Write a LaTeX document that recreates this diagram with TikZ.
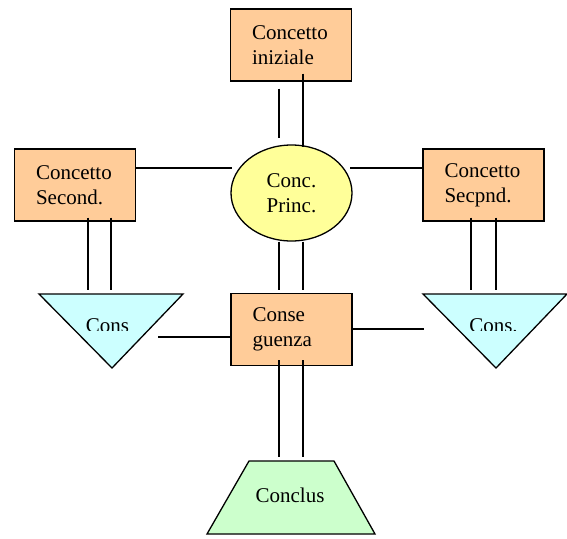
\documentclass[tikz,border=0pt]{standalone}
\usepackage{fontspec}
\setmainfont{Liberation Serif}
\newfontfamily\concfont{Liberation Serif}
\usetikzlibrary{shapes.geometric}
\definecolor{boxorange}{HTML}{FFCC99}
\definecolor{princyellow}{HTML}{FFFF99}
\definecolor{conscyan}{HTML}{CCFFFF}
\definecolor{conclgreen}{HTML}{CCFFCC}
\tikzset{
	concbox/.style={draw, fill=boxorange, rectangle, text width=78pt, inner xsep=21.5pt, inner ysep=0pt, minimum height=72pt, align=left},
	princ/.style={draw, fill=princyellow, ellipse, minimum width=121pt, minimum height=96pt, inner sep=0pt, align=left},
	lbl/.style={inner sep=0pt, anchor=base},
}
\begin{document}
\begin{tikzpicture}[x=1pt, y=-1pt, line width=1.3pt, font=\concfont\fontsize{21}{25}\selectfont]
		\useasboundingbox (0,0) rectangle (567,538);
		\path
			  (291,   45)   node[concbox] (iniz)   {Concetto\\iniziale}
			  (291.5, 193)  node[princ]   (centr)  {Conc.\\Princ.}
			  ( 75,   185)  node[concbox] (second) {Concetto\\Second.}
			  (483.5, 185)  node[concbox] (secpnd) {Concetto\\Secpnd.}
			  (291.5, 329.5) node[concbox] (conse) {Conse\\guenza}
		;
		\draw[fill=conscyan] ( 39,294) -- (183,294) -- (112,368) -- cycle;
		\draw[fill=conscyan] (423,294) -- (567,294) -- (496,368) -- cycle;
		\draw[fill=conclgreen] (249,461) -- (334,461) -- (375,534) -- (207,534) -- cycle;
		\begin{scope}
			\clip (0,294) rectangle (567,330);
			\node[lbl] (consL) at (107.5,332) {Cons};
			\node[lbl] (consR) at (493.5,332) {Cons.};
		\end{scope}
		\node[lbl] (conclus) at (290,502) {Conclus};
		\draw ([xshift=-12pt,yshift=-7pt]iniz.south)    -- ++(0,49);
		\draw ([xshift=12pt,yshift=8pt]iniz.south)      -- ++(0,73);
		\draw ([yshift=17pt]second.east)                -- ++(96,0);
		\draw ([yshift=17pt]secpnd.west)                -- ++(-72,0);
		\draw ([xshift=13pt,yshift=4pt]second.south)    -- ++(0,72);
		\draw ([xshift=36pt,yshift=4pt]second.south)    -- ++(0,72);
		\draw ([xshift=-12.5pt,yshift=4pt]secpnd.south) -- ++(0,72);
		\draw ([xshift=12.5pt,yshift=4pt]secpnd.south)  -- ++(0,72);
		\draw ([xshift=-12.5pt]centr.south)             -- ++(0,48);
		\draw ([xshift=11.5pt]centr.south)              -- ++(0,48);
		\draw ([xshift=-12.5pt,yshift=6pt]conse.south)  -- ++(0,97);
		\draw ([xshift=11.5pt,yshift=6pt]conse.south)   -- ++(0,97);
		\draw ([yshift=-7.5pt]conse.west)               -- ++(-72,0);
		\draw ([yshift=0.5pt]conse.east)                -- ++(71,0);
	\end{tikzpicture}
\end{document}
